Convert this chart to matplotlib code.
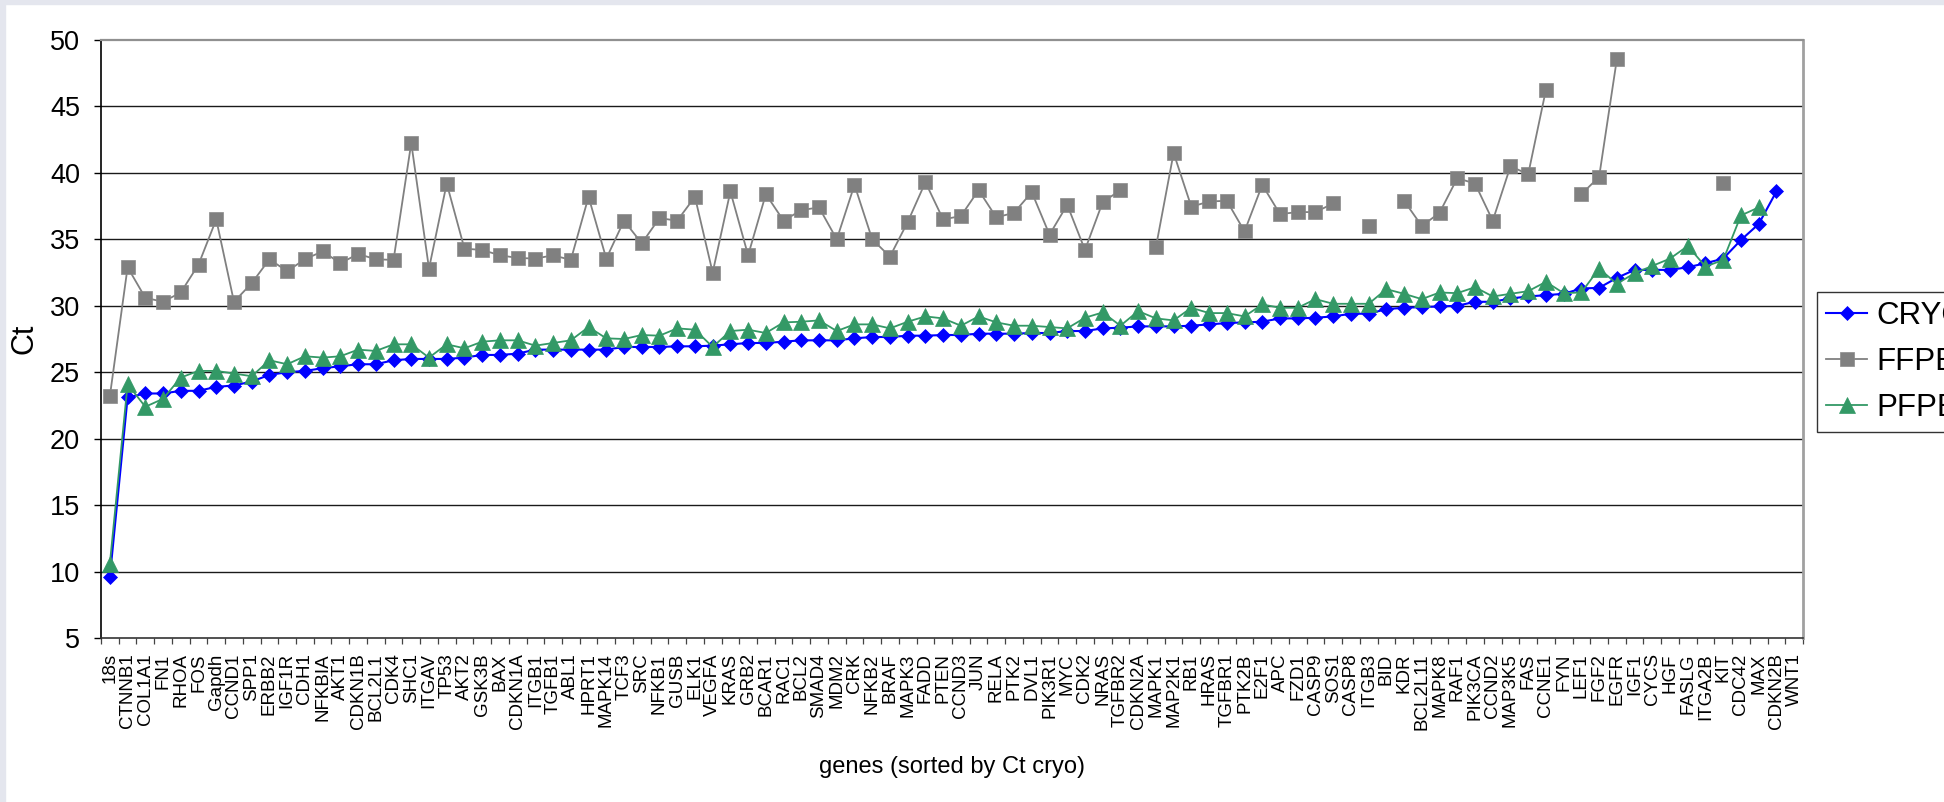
import numpy as np
import matplotlib
matplotlib.use("Agg")
import matplotlib.pyplot as plt
from matplotlib import font_manager
from matplotlib.patches import Rectangle

nan = np.nan

# genes, sorted by Ct of the cryo samples
genes = ['18s', 'CTNNB1', 'COL1A1', 'FN1', 'RHOA', 'FOS', 'Gapdh', 'CCND1', 'SPP1', 'ERBB2',
         'IGF1R', 'CDH1', 'NFKBIA', 'AKT1', 'CDKN1B', 'BCL2L1', 'CDK4', 'SHC1', 'ITGAV', 'TP53',
         'AKT2', 'GSK3B', 'BAX', 'CDKN1A', 'ITGB1', 'TGFB1', 'ABL1', 'HPRT1', 'MAPK14', 'TCF3',
         'SRC', 'NFKB1', 'GUSB', 'ELK1', 'VEGFA', 'KRAS', 'GRB2', 'BCAR1', 'RAC1', 'BCL2',
         'SMAD4', 'MDM2', 'CRK', 'NFKB2', 'BRAF', 'MAPK3', 'FADD', 'PTEN', 'CCND3', 'JUN',
         'RELA', 'PTK2', 'DVL1', 'PIK3R1', 'MYC', 'CDK2', 'NRAS', 'TGFBR2', 'CDKN2A', 'MAPK1',
         'MAP2K1', 'RB1', 'HRAS', 'TGFBR1', 'PTK2B', 'E2F1', 'APC', 'FZD1', 'CASP9', 'SOS1',
         'CASP8', 'ITGB3', 'BID', 'KDR', 'BCL2L11', 'MAPK8', 'RAF1', 'PIK3CA', 'CCND2', 'MAP3K5',
         'FAS', 'CCNE1', 'FYN', 'LEF1', 'FGF2', 'EGFR', 'IGF1', 'CYCS', 'HGF', 'FASLG',
         'ITGA2B', 'KIT', 'CDC42', 'MAX', 'CDKN2B', 'WNT1']

cryo = [9.6, 23.1, 23.4, 23.4, 23.6, 23.6, 23.9, 24.0, 24.3, 24.8,
        25.0, 25.1, 25.3, 25.45, 25.6, 25.6, 25.9, 26.0, 26.0, 26.0,
        26.1, 26.3, 26.3, 26.4, 26.7, 26.7, 26.7, 26.7, 26.7, 26.9,
        26.9, 26.9, 26.95, 26.95, 27.0, 27.1, 27.2, 27.2, 27.3, 27.4,
        27.4, 27.4, 27.55, 27.65, 27.65, 27.75, 27.75, 27.8, 27.8, 27.9,
        27.9, 27.9, 27.95, 27.95, 28.1, 28.1, 28.3, 28.35, 28.45, 28.45,
        28.45, 28.5, 28.6, 28.7, 28.75, 28.8, 29.05, 29.05, 29.1, 29.2,
        29.4, 29.4, 29.75, 29.85, 29.9, 29.95, 30.0, 30.3, 30.3, 30.55,
        30.7, 30.8, 30.9, 31.3, 31.35, 32.1, 32.7, 32.7, 32.7, 32.9,
        33.2, 33.55, 34.95, 36.15, 38.6, nan]

ffpe = [23.2, 32.9, 30.6, 30.3, 31.0, 33.1, 36.5, 30.3, 31.7, 33.5,
        32.6, 33.5, 34.1, 33.2, 33.9, 33.5, 33.45, 42.25, 32.8, 39.2,
        34.3, 34.2, 33.8, 33.6, 33.55, 33.8, 33.45, 38.2, 33.55, 36.4,
        34.7, 36.6, 36.4, 38.2, 32.5, 38.6, 33.8, 38.4, 36.4, 37.2,
        37.4, 35.0, 39.1, 35.0, 33.7, 36.3, 39.3, 36.5, 36.75, 38.7,
        36.65, 37.0, 38.55, 35.35, 37.6, 34.2, 37.8, 38.7, nan, 34.4,
        41.5, 37.45, 37.85, 37.9, 35.6, 39.1, 36.9, 37.05, 37.05, 37.7,
        nan, 36.0, nan, 37.9, 36.0, 37.0, 39.6, 39.2, 36.4, 40.5,
        39.9, 46.25, nan, 38.4, 39.7, 48.55, nan, nan, nan, nan,
        nan, 39.25, nan, nan, nan, nan]

pfpe = [10.6, 24.1, 22.4, 23.0, 24.6, 25.1, 25.1, 24.9, 24.7, 25.9,
        25.6, 26.2, 26.1, 26.2, 26.7, 26.6, 27.1, 27.1, 26.1, 27.1,
        26.8, 27.3, 27.4, 27.4, 27.0, 27.2, 27.4, 28.4, 27.55, 27.5,
        27.8, 27.75, 28.3, 28.2, 26.9, 28.1, 28.2, 27.95, 28.75, 28.8,
        28.9, 28.1, 28.6, 28.6, 28.3, 28.8, 29.2, 29.05, 28.5, 29.2,
        28.75, 28.5, 28.5, 28.4, 28.3, 29.1, 29.5, 28.5, 29.6, 29.05,
        28.9, 29.85, 29.45, 29.45, 29.2, 30.1, 29.85, 29.85, 30.5, 30.15,
        30.15, 30.15, 31.25, 30.9, 30.5, 31.0, 30.95, 31.4, 30.7, 30.9,
        31.1, 31.8, 30.95, 31.0, 32.8, 31.65, 32.45, 33.0, 33.55, 34.5,
        32.95, 33.45, 36.8, 37.4, nan, nan]

# fonts
names = {f.name for f in font_manager.fontManager.ttflist}
base_font = 'Liberation Sans' if 'Liberation Sans' in names else 'DejaVu Sans'
if 'Liberation Sans Narrow' in names:
    xlab_font, xlab_size = 'Liberation Sans Narrow', 20
else:
    xlab_font, xlab_size = base_font, 17
plt.rcParams['font.family'] = [base_font, 'DejaVu Sans']

W, H = 1944, 802
fig = plt.figure(figsize=(W / 100, H / 100), dpi=100)
fig.patch.set_facecolor('white')
# thin light frame at the top and left of the picture
fig.patches.append(Rectangle((0, 1 - 4 / H), 1, 4 / H, transform=fig.transFigure,
                             color='#e4e6ee', zorder=0))
fig.patches.append(Rectangle((0, 0), 5 / W, 1, transform=fig.transFigure,
                             color='#e4e6ee', zorder=0))

ax = fig.add_axes([101 / W, 164 / H, (1803 - 101) / W, (638 - 40) / H])
x = np.arange(len(genes))

ax.plot(x, cryo, color='#0000ff', lw=1.5, marker='D', ms=7.2, mfc='#0000ff',
        mec='#0000ff', mew=0.5, label='CRYO', zorder=3)
ax.plot(x, ffpe, color='#808080', lw=1.3, marker='s', ms=10, mfc='#808080',
        mec='#8a8a8a', mew=0.5, label='FFPE', zorder=3.1)
ax.plot(x, pfpe, color='#339966', lw=1.3, marker='^', ms=11, mfc='#339966',
        mec='#339966', mew=0.5, label='PFPE', zorder=3.2)

ax.set_xlim(-0.5, len(genes) - 0.5)
ax.set_ylim(5, 50)
ax.set_yticks(np.arange(5, 51, 5))
for v in range(10, 50, 5):
    ax.axhline(v, color='#1a1a1a', lw=1.0, zorder=1)

ax.set_xticks(x)
ax.set_xticklabels(genes, rotation=90, fontsize=13.5)
ax.set_xticks(np.arange(-0.5, len(genes)), minor=True)
ax.tick_params(axis='x', which='major', length=0, pad=11)
ax.tick_params(axis='x', which='minor', length=4, width=0.9, color='#444444')
ax.tick_params(axis='y', length=5, width=1.0, pad=10, labelsize=19.5)

ax.spines['left'].set_color('black')
ax.spines['left'].set_linewidth(1.2)
ax.spines['bottom'].set_color('#333333')
ax.spines['bottom'].set_linewidth(1.2)
ax.spines['top'].set_color('#909090')
ax.spines['top'].set_linewidth(1.6)
ax.spines['right'].set_color('#a0a0a0')
ax.spines['right'].set_linewidth(2.0)

ax.set_ylabel('Ct', fontsize=22)
ax.yaxis.set_label_coords(-0.036, 0.5)
ax.set_xlabel('genes (sorted by Ct cryo)', fontsize=xlab_size, family=xlab_font,
              labelpad=19)

leg = fig.legend(loc='upper left', bbox_to_anchor=(1817 / W, 1 - 292 / H),
                 fontsize=22.5, frameon=True, fancybox=False, edgecolor='black',
                 handlelength=1.3, handletextpad=0.3, borderpad=0.3,
                 labelspacing=0.5, borderaxespad=0)
leg.get_frame().set_linewidth(1.0)

fig.savefig('out.png', dpi=100, facecolor=fig.get_facecolor())
